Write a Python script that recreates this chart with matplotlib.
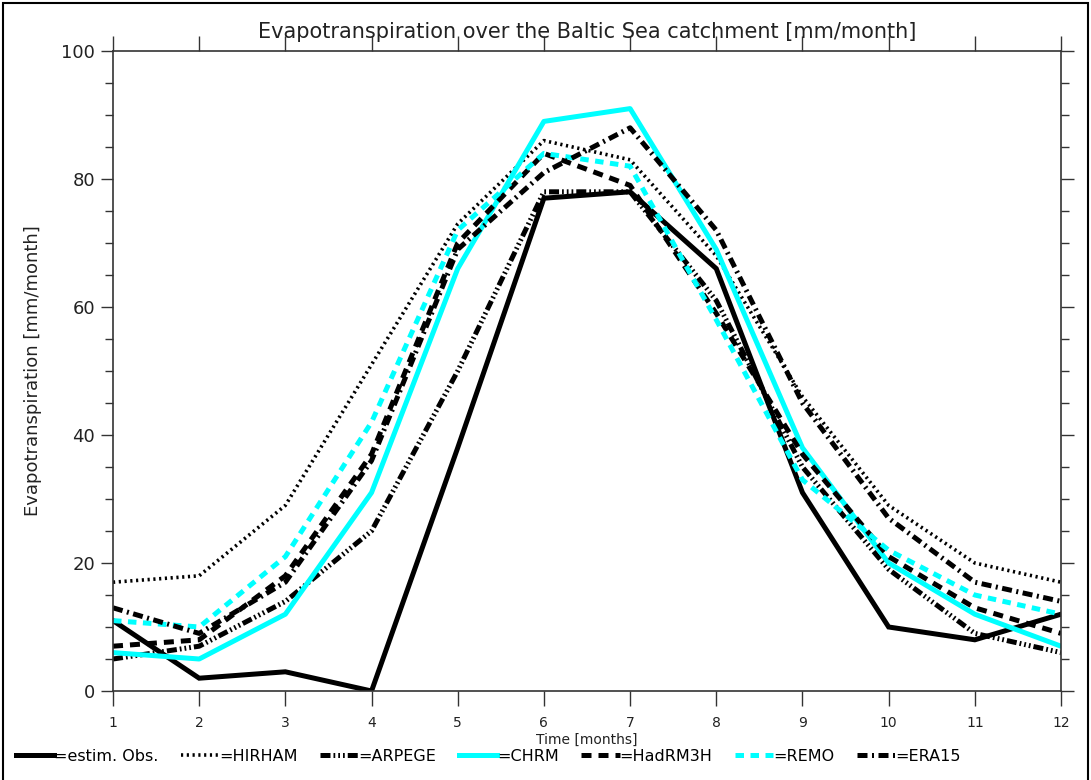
import numpy as np
import matplotlib
matplotlib.use("Agg")
import matplotlib.pyplot as plt
from matplotlib.patches import Rectangle

# monthly evapotranspiration [mm/month]
months = np.arange(1, 13)
obs     = [11, 2, 3, 0, 38, 77, 78, 66, 31, 10, 8, 12]
hirham  = [17, 18, 29, 51, 73, 86, 83, 68, 46, 29, 20, 17]
arpege  = [5, 7, 14, 25, 50, 78, 78, 61, 35, 19, 9, 6]
chrm    = [6, 5, 12, 31, 66, 89, 91, 69, 38, 20, 12, 7]
hadrm3h = [7, 8, 18, 37, 70, 84, 79, 59, 37, 21, 13, 9]
remo    = [11, 10, 21, 42, 72, 84, 82, 58, 33, 22, 15, 12]
era15   = [13, 9, 17, 36, 69, 81, 88, 72, 45, 27, 17, 14]

plt.rcParams['font.family'] = ['DejaVu Sans']

fig = plt.figure(figsize=(10.91, 7.8), dpi=100)
ax = fig.add_axes([113/1091, 89/780, 948/1091, 640/780])

cyan = '#00ffff'
ax.plot(months, obs, color='black', lw=3.6, solid_joinstyle='miter', label='=estim. Obs.')
ax.plot(months, hirham, color='black', lw=2.6, linestyle=(0, (0.6, 1.0)), label='=HIRHAM')
ax.plot(months, arpege, color='black', lw=3.6,
        linestyle=(0, (2, 0.6, 0.35, 0.6, 0.35, 0.6, 0.35, 0.6)), label='=ARPEGE')
ax.plot(months, chrm, color=cyan, lw=3.6, label='=CHRM')
ax.plot(months, hadrm3h, color='black', lw=3.6, linestyle=(0, (2, 1.4)), label='=HadRM3H')
ax.plot(months, remo, color=cyan, lw=3.6, linestyle=(0, (1.7, 1.3)), label='=REMO')
ax.plot(months, era15, color='black', lw=3.6, linestyle=(0, (2, 0.9, 0.4, 0.9)), label='=ERA15')

ax.set_xlim(1, 12)
ax.set_ylim(0, 100)
ax.set_xticks(months)
ax.set_yticks(np.arange(0, 101, 20))
ax.set_yticks(np.arange(0, 101, 5), minor=True)
ax.tick_params(axis='x', which='major', direction='out', length=11, width=1,
               top=True, bottom=True, labelsize=10, pad=7, colors='#333333',
               labelcolor='#222222')
ax.tick_params(axis='y', which='major', direction='out', length=9, width=1,
               left=True, right=True, labelsize=13, pad=4, colors='#333333',
               labelcolor='#222222')
ax.tick_params(axis='y', which='minor', direction='out', length=6, width=1,
               left=True, right=True, colors='#333333')
for s in ax.spines.values():
    s.set_linewidth(1.2)
    s.set_color('#333333')

ax.set_xlabel('Time [months]', fontsize=10, labelpad=2, color='#222222')
ax.set_ylabel('Evapotranspiration [mm/month]', fontsize=13, labelpad=14, color='#222222')
ax.set_title('Evapotranspiration over the Baltic Sea catchment [mm/month]',
             fontsize=15, pad=9, color='#222222')

handles, labels = ax.get_legend_handles_labels()
fig.legend(handles, labels, loc='lower left', bbox_to_anchor=(0.0, 0.0),
           ncol=7, frameon=False, fontsize=11.5, handlelength=2.4,
           handletextpad=0.0, columnspacing=1.4, borderaxespad=0.6)

fig.patches.append(Rectangle((0.003, -0.01), 0.994, 1.006, transform=fig.transFigure,
                             fill=False, edgecolor='black', lw=1.5))

fig.savefig('out.png', dpi=100)
